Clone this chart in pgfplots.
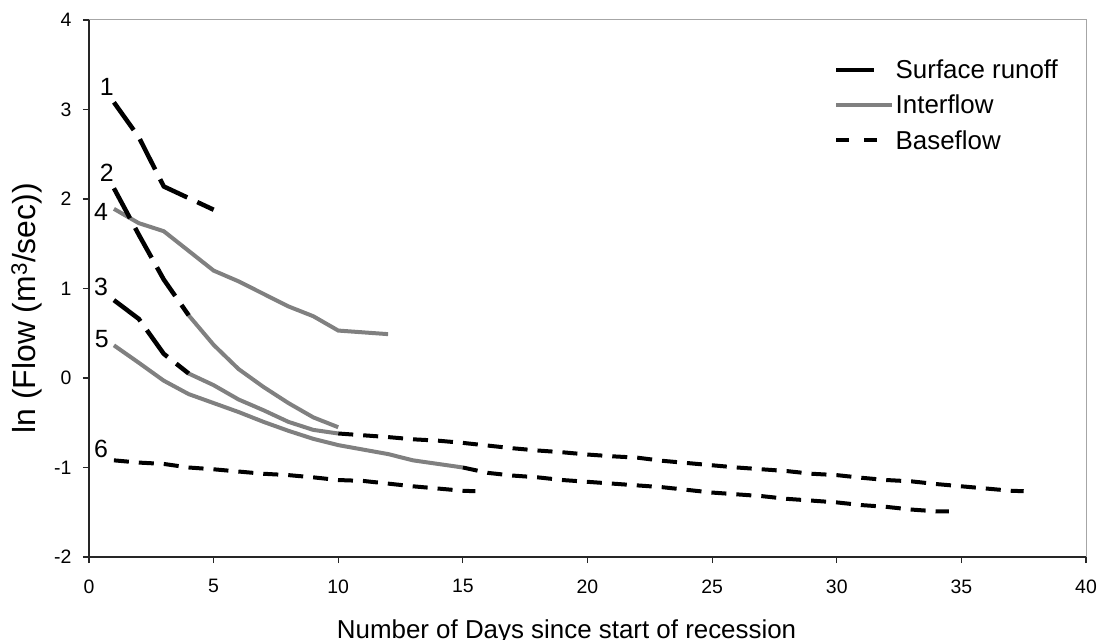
\documentclass[border=0pt]{standalone}
\usepackage{pgfplots}
\pgfplotsset{compat=1.18}
\usepackage{fontspec}
\setmainfont{Liberation Sans}
\definecolor{igray}{RGB}{128,128,128}
\begin{document}
\begin{tikzpicture}
\begin{axis}[
  scale only axis, width=997bp, height=537bp,
  xmin=0, xmax=40, ymin=-2, ymax=4,
  xtick={0,5,...,40}, ytick={-2,-1,...,4},
  axis lines*=left,
  tick align=outside, major tick length=6bp,
  axis line style={black!85, line width=1.2bp},
  tick style={black!85, line width=1.2bp},
  tick label style={font=\fontsize{19.5}{22}\selectfont},
  xticklabel style={yshift=-13bp},
  yticklabel style={xshift=-8bp},
  /pgf/number format/assume math mode=true,
  xlabel={Number of Days since start of recession},
  ylabel={ln (Flow (m\textsuperscript{3}/sec))},
  xlabel style={at={(axis description cs:0.479,-0.151)}, anchor=base, font=\fontsize{26}{30}\selectfont},
  ylabel style={at={(axis description cs:-0.0622,0.463)}, anchor=center, font=\fontsize{32}{36}\selectfont},
  legend style={draw=none, fill=none, at={(axis description cs:0.747,0.929)}, anchor=north west,
    font=\fontsize{26}{30}\selectfont, row sep=12bp, inner sep=0pt, nodes={inner sep=1.5bp}},
  legend cell align=left,
  clip=false,
]
\addlegendimage{legend image code/.code={\path[draw=none,fill=none] (0bp,-6bp) rectangle (56bp,6bp); \draw[black, line width=4.5bp, solid] (0bp,0bp) -- (38bp,0bp);}}
\addlegendentry{Surface runoff}
\addlegendimage{legend image code/.code={\path[draw=none,fill=none] (0bp,-6bp) rectangle (56bp,6bp); \draw[igray, line width=4bp, solid] (0bp,0bp) -- (56bp,0bp);}}
\addlegendentry{Interflow}
\addlegendimage{legend image code/.code={\path[draw=none,fill=none] (0bp,-6bp) rectangle (56bp,6bp); \draw[black, line width=4bp, dash pattern=on 13bp off 15bp] (0bp,0bp) -- (43bp,0bp);}}
\addlegendentry{Baseflow}

% Interflow (gray)
\addplot[igray, line width=4bp, forget plot] coordinates {(1,1.89)(2,1.73)(3,1.64)(4,1.42)(5,1.2)(6,1.08)(7,0.94)(8,0.8)(9,0.69)(10,0.53)(11,0.51)(12,0.49)};
\addplot[igray, line width=4bp, forget plot] coordinates {(4,0.7)(5,0.37)(6,0.1)(7,-0.1)(8,-0.28)(9,-0.44)(10,-0.55)};
\addplot[igray, line width=4bp, forget plot] coordinates {(4,0.05)(5,-0.08)(6,-0.24)(7,-0.36)(8,-0.49)(9,-0.58)(10,-0.62)};
\addplot[igray, line width=4bp, forget plot] coordinates {(1,0.365)(2,0.17)(3,-0.03)(4,-0.18)(5,-0.28)(6,-0.38)(7,-0.49)(8,-0.59)(9,-0.68)(10,-0.75)(11,-0.8)(12,-0.85)(13,-0.92)(14,-0.96)(15,-1.0)};

% Surface runoff (black long dash)
\addplot[black, line width=4.5bp, dash pattern=on 34bp off 11bp, forget plot] coordinates {(1,3.08)(2,2.69)(3,2.14)(4,2.01)(5,1.88)};
\addplot[black, line width=4.5bp, dash pattern=on 34bp off 11bp, forget plot] coordinates {(1,2.12)(2,1.6)(3,1.1)(4,0.7)};
\addplot[black, line width=4.5bp, dash pattern=on 34bp off 11bp, forget plot] coordinates {(1,0.87)(2,0.66)(3,0.27)(4,0.05)};

% Baseflow (black short dash)
\addplot[black, line width=4bp, dash pattern=on 15bp off 10bp, forget plot] coordinates {(10,-0.62)(11,-0.64)(12,-0.66)(13,-0.685)(14,-0.70)(15,-0.725)(16,-0.755)(17,-0.785)(18,-0.81)(19,-0.83)(20,-0.855)(21,-0.875)(22,-0.89)(23,-0.925)(24,-0.95)(25,-0.975)(26,-1.0)(27,-1.02)(28,-1.04)(29,-1.07)(30,-1.085)(31,-1.115)(32,-1.14)(33,-1.155)(34,-1.185)(35,-1.21)(36,-1.235)(37,-1.26)(37.5,-1.265)};
\addplot[black, line width=4bp, dash pattern=on 15bp off 10bp, forget plot] coordinates {(15,-1.0)(16,-1.06)(17,-1.09)(18,-1.11)(19,-1.14)(20,-1.16)(21,-1.18)(22,-1.2)(23,-1.22)(24,-1.25)(25,-1.28)(26,-1.30)(27,-1.32)(28,-1.35)(29,-1.37)(30,-1.39)(31,-1.42)(32,-1.44)(33,-1.47)(34,-1.49)(34.5,-1.49)};
\addplot[black, line width=4bp, dash pattern=on 15bp off 10bp, forget plot] coordinates {(1,-0.92)(2,-0.945)(3,-0.96)(4,-1.0)(5,-1.02)(6,-1.045)(7,-1.07)(8,-1.085)(9,-1.11)(10,-1.14)(11,-1.15)(12,-1.18)(13,-1.21)(14,-1.235)(15,-1.26)(15.5,-1.265)};

\node[font=\fontsize{25}{28}\selectfont] at (axis cs:0.71,3.25) {1};
\node[font=\fontsize{25}{28}\selectfont] at (axis cs:0.71,2.295) {2};
\node[font=\fontsize{25}{28}\selectfont] at (axis cs:0.48,1.86) {4};
\node[font=\fontsize{25}{28}\selectfont] at (axis cs:0.48,1.017) {3};
\node[font=\fontsize{25}{28}\selectfont] at (axis cs:0.51,0.44) {5};
\node[font=\fontsize{25}{28}\selectfont] at (axis cs:0.48,-0.789) {6};
\end{axis}
\draw[gray!70, line width=1bp] (current axis.north west) -- (current axis.north east) -- (current axis.south east);
\pgfresetboundingbox
\path[use as bounding box] (-89bp,-83bp) rectangle (1010bp,557bp);
\end{tikzpicture}
\end{document}
